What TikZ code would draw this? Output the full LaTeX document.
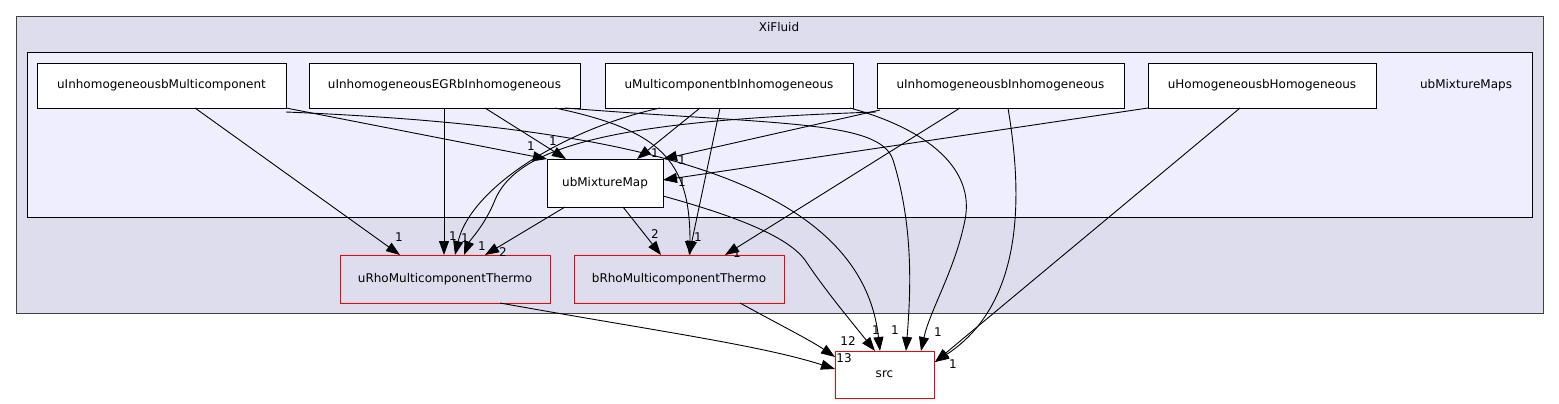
\documentclass[tikz,border=0pt]{standalone}
\usepackage{fontspec}
\setmainfont{DejaVu Sans}
\usetikzlibrary{arrows.meta}
\definecolor{clA}{HTML}{DDDDEE}
\definecolor{clB}{HTML}{EEEEFF}
\begin{document}
\begin{tikzpicture}[x=1pt,y=-1pt,
  box/.style={draw=black,fill=white,line width=0.9pt,inner sep=0,font=\fontsize{12}{14}\selectfont},
  rbox/.style={draw=red,line width=0.9pt,inner sep=0,font=\fontsize{12}{14}\selectfont},
  e/.style={draw=black,line width=0.9pt,-{Triangle[length=14pt,width=10pt]}},
  lb/.style={font=\fontsize{12}{14}\selectfont,inner sep=0}]
\useasboundingbox (0,0) rectangle (1559,404);
\draw[fill=clA,draw=black!75,line width=0.9pt] (16,16) rectangle (1543,313);
\node[lb] (xi) at (779,27) {XiFluid};
\draw[fill=clB,draw=black,line width=0.9pt] (27,52) rectangle (1532,217);
\node[lb] (ubm) at (1466,85) {ubMixtureMaps};
\node[box,minimum width=249pt,minimum height=45pt] (a) at (161.5,85.5) {uInhomogeneousbMulticomponent};
\node[box,minimum width=271pt,minimum height=45pt] (b) at (444.5,85.5) {uInhomogeneousEGRbInhomogeneous};
\node[box,minimum width=248pt,minimum height=45pt] (c) at (729,85.5) {uMulticomponentbInhomogeneous};
\node[box,minimum width=247pt,minimum height=45pt] (d) at (1000.5,85.5) {uInhomogeneousbInhomogeneous};
\node[box,minimum width=228pt,minimum height=45pt] (f) at (1262,85.5) {uHomogeneousbHomogeneous};
\node[box,minimum width=116pt,minimum height=48pt] (m) at (605,183) {ubMixtureMap};
\node[rbox,minimum width=210pt,minimum height=48pt] (u) at (445,279) {uRhoMulticomponentThermo};
\node[rbox,minimum width=210pt,minimum height=48pt] (br) at (679,279) {bRhoMulticomponentThermo};
\node[rbox,fill=white,minimum width=99pt,minimum height=47pt] (s) at (884.5,374.5) {src};
% edges
\draw[e] (195,108) -- (400,255);
\node[lb] at (399,237) {1};
\draw[e] (286,108) -- (547,159);
\node[lb] at (531,146) {1};
\draw[e] (286,112) .. controls (600,125) and (860,170) .. (880,351);
\node[lb] at (876,330) {1};
\draw[e] (444,108) -- (444,255);
\node[lb] at (453,236) {1};
\draw[e] (485,108) -- (566,159);
\node[lb] at (553,141) {1};
\draw[e] (555,108) .. controls (660,130) and (690,160) .. (690,255);
\draw[e] (565,108) .. controls (780,125) and (880,120) .. (893,160) .. controls (915,230) and (910,300) .. (906,351);
\node[lb] at (895,330) {1};
\draw[e] (700,108) -- (637,159);
\node[lb] at (655,153) {1};
\draw[e] (720,108) -- (689,255);
\node[lb] at (698,237) {1};
\draw[e] (660,108) .. controls (560,130) and (470,190) .. (455,255);
\node[lb] at (465,238) {1};
\draw[e] (850,108) .. controls (930,130) and (975,170) .. (965,220) .. controls (955,270) and (930,310) .. (921,351);
\node[lb] at (938,332) {1};
\draw[e] (880,110) -- (663,159);
\node[lb] at (682,160) {1};
\draw[e] (876,112) .. controls (640,120) and (520,140) .. (495,200) .. controls (485,225) and (470,240) .. (464,255);
\node[lb] at (482,246) {1};
\draw[e] (960,108) -- (725,255);
\node[lb] at (737,253) {1};
\draw[e] (1008,108) .. controls (1020,180) and (1030,300) .. (935,362);
\draw[e] (1148,108) -- (663,180);
\node[lb] at (682,182) {1};
\draw[e] (1240,108) -- (935,362);
\node[lb] at (953,364) {1};
\draw[e] (565,207) -- (485,255);
\node[lb] at (503,252) {2};
\draw[e] (623,207) -- (661,255);
\node[lb] at (655,234) {2};
\draw[e] (663,196) .. controls (750,220) and (790,240) .. (805,260) .. controls (825,290) and (850,320) .. (875,351);
\draw[e] (500,303) .. controls (650,330) and (760,345) .. (835,369);
\node[lb] at (844,358) {13};
\draw[e] (740,303) .. controls (780,325) and (810,340) .. (835,357);
\node[lb] at (848,341) {12};
\end{tikzpicture}
\end{document}
